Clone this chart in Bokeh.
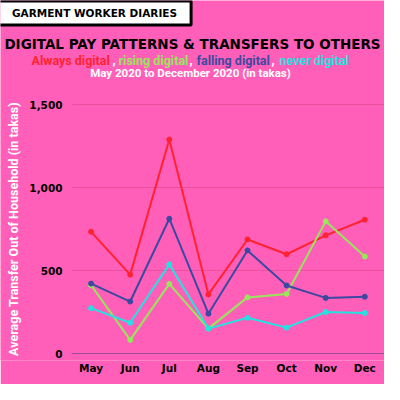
from bokeh.plotting import figure
from bokeh.models import (Label, Range1d, NumeralTickFormatter, FixedTicker, LinearAxis)
from bokeh.embed import file_html
from bokeh.resources import INLINE

months = ["May", "Jun", "Jul", "Aug", "Sep", "Oct", "Nov", "Dec"]
always_digital = [733, 475, 1289, 356, 687, 598, 712, 806]
rising_digital = [411, 82, 419, 150, 338, 359, 796, 584]
falling_digital = [421, 313, 812, 240, 621, 410, 335, 342]
never_digital = [273, 185, 537, 150, 215, 156, 250, 244]
y_ticks = [0, 500, 1000, 1500]

BG = "#FF5FB8"
RED = "#FF2230"
GREEN = "#98E65A"
BLUE = "#3B4AA0"
CYAN = "#22E2E2"
GRID = "#E9509F"
ZERO = "#9A4E9A"

W, H = 384, 384
ZERO_PX = 353       # where the 0 line sits (canvas px)
PLOT_TOP = 104      # where the 1,500 line sits (canvas px)
FB = 360            # frame bottom (canvas px)
idx = list(range(len(months)))

# x: month k at pixel 90.6 + 39.1*k ; y: 0 at ZERO_PX, 1500 at PLOT_TOP
X0, X1 = -2.317, 7.504
per_px = 1500 / (ZERO_PX - PLOT_TOP)
Y0 = -(FB - ZERO_PX) * per_px
Y1 = Y0 + FB * per_px

p = figure(width=W, height=H, x_range=Range1d(X0, X1), y_range=Range1d(Y0, Y1),
           output_backend="svg", toolbar_location=None, y_axis_location=None,
           min_border_left=0, min_border_right=0, min_border_top=0,
           min_border_bottom=H - FB,
           background_fill_color=BG, border_fill_color=BG, outline_line_color=None)
p.grid.visible = False

# x axis
xa = p.xaxis[0]
xa.ticker = FixedTicker(ticks=idx)
xa.major_label_overrides = {i: m for i, m in zip(idx, months)}
xa.axis_line_color = None

# y axis at the left edge of the plotting area
ya = LinearAxis(fixed_location=-0.5, ticker=FixedTicker(ticks=y_ticks),
                formatter=NumeralTickFormatter(format="0,0"), bounds=(0, 1500))
p.add_layout(ya, "left")
ya.axis_line_color = None
ya.major_label_standoff = 9
ya.axis_label = "Average Transfer Out of Household (in takas)"
ya.axis_label_text_font = "Roboto"
ya.axis_label_text_font_style = "bold"
ya.axis_label_text_font_size = "12.5px"
ya.axis_label_text_color = "white"
ya.axis_label_standoff = 5

for ax in (xa, ya):
    ax.major_tick_line_color = None
    ax.minor_tick_line_color = None
    ax.major_tick_out = 0
    ax.major_tick_in = 0
    ax.major_label_text_font = "DejaVu Sans"
    ax.major_label_text_font_style = "bold"
    ax.major_label_text_font_size = "10.5px"
    ax.major_label_text_color = "black"
xa.major_label_standoff = 1

# horizontal grid lines over the plotting area only
p.segment(x0=[-0.5] * 3, x1=[X1] * 3, y0=y_ticks[1:], y1=y_ticks[1:],
          line_color=GRID, line_width=1)
p.segment(x0=[-0.5], x1=[X1], y0=[y_ticks[0]], y1=[y_ticks[0]],
          line_color=ZERO, line_width=1)

for vals, col in [(always_digital, RED), (rising_digital, GREEN),
                  (falling_digital, BLUE), (never_digital, CYAN)]:
    p.line(idx, vals, line_color=col, line_width=2)
    p.scatter(idx, vals, size=5, fill_color=col, line_color=col)


def lab(text, xc, yc, size, color, font="Roboto", align="left", **kw):
    p.add_layout(Label(x=xc, y=FB - yc, x_units="screen", y_units="screen",
                       text=text, text_font=font, text_font_style="bold",
                       text_font_size=size, text_color=color,
                       text_align=align, text_baseline="middle", **kw))


lab("GARMENT WORKER DIARIES", 94, 12.5, "10.5px", "black", font="DejaVu Sans", align="center",
    background_fill_color="white", border_line_color="black", border_line_width=3,
    padding=dict(left=14, right=14, top=6, bottom=6))
lab("DIGITAL PAY PATTERNS & TRANSFERS TO OTHERS", 192, 43, "13.5px", "black",
    font="DejaVu Sans", align="center")
lab("Always digital", 31, 59.5, "12.5px", RED)
lab(",", 112, 59.5, "12.5px", "white")
lab("rising digital", 118, 59.5, "12.5px", GREEN)
lab(",", 189, 59.5, "12.5px", "white")
lab("falling digital", 196, 59.5, "12.5px", BLUE)
lab(",", 271, 59.5, "12.5px", "white")
lab("never digital", 279, 59.5, "12.5px", CYAN)
lab("May 2020 to December 2020 (in takas)", 190, 72, "11.5px", "white", align="center")

open("out.html", "w").write(file_html(p, INLINE))
